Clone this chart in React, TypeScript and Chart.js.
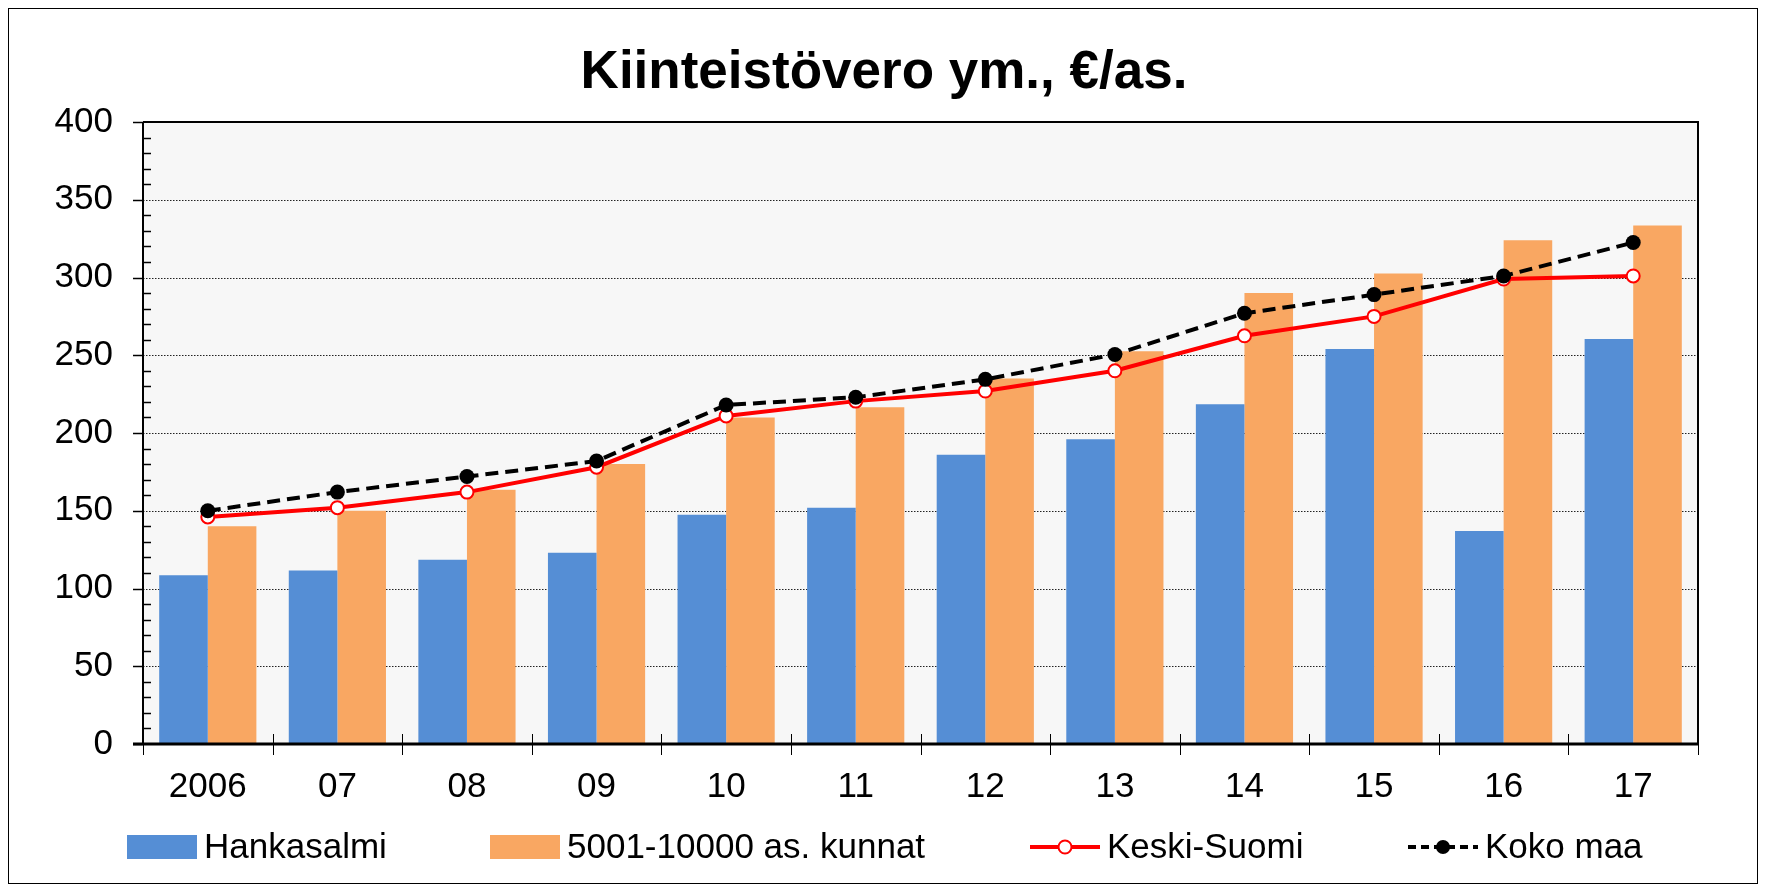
import React, { useEffect, useRef } from "react";
import { Chart, registerables } from "chart.js";

Chart.register(...registerables);

const title = "Kiinteistövero ym., €/as.";
const categories = ["2006", "07", "08", "09", "10", "11", "12", "13", "14", "15", "16", "17"];
const hankasalmi = [108.5, 111.5, 118.5, 123, 147.5, 152, 186, 196, 218.5, 254, 137, 260.5];
const kunnat = [140, 150, 163.5, 180, 210, 216.5, 235, 252.5, 290, 302.5, 324, 333.5];
const keskiSuomi = [146, 152, 162, 178, 211, 220.5, 227, 240, 262.5, 275, 299, 301];
const kokoMaa = [150, 162, 172, 182, 218, 223, 234.5, 250.5, 277, 289, 301, 322.5];
const seriesNames = ["Hankasalmi", "5001-10000 as. kunnat", "Keski-Suomi", "Koko maa"];
const yMin = 0;
const yMax = 400;
const yStep = 50;
const yMinorStep = 10;

const FONT = "'Liberation Sans', Arial, sans-serif";
const BLUE = "#558ED5";
const ORANGE = "#F9A762";
const RED = "#FF0000";
const BLACK = "#000000";
const LEGEND_X = [118, 481, 1021, 1399];

const decoPlugin = {
  id: "deco",
  beforeDatasetsDraw(chart: any) {
    const { ctx, chartArea: a, scales } = chart;
    const y = scales.y;
    ctx.save();
    ctx.fillStyle = "#F7F7F7";
    ctx.fillRect(a.left, a.top, a.right - a.left, a.bottom - a.top);
    ctx.strokeStyle = "#222";
    ctx.lineWidth = 1;
    ctx.setLineDash([1.5, 1.5]);
    for (let v = yMin + yStep; v < yMax; v += yStep) {
      const py = Math.round(y.getPixelForValue(v)) + 0.5;
      ctx.beginPath();
      ctx.moveTo(a.left, py);
      ctx.lineTo(a.right, py);
      ctx.stroke();
    }
    ctx.restore();
  },
  afterDatasetsDraw(chart: any) {
    const { ctx, chartArea: a, scales } = chart;
    const x = scales.x;
    const y = scales.y;
    ctx.save();
    ctx.strokeStyle = "#000";
    ctx.setLineDash([]);
    ctx.lineWidth = 2;
    ctx.beginPath();
    ctx.moveTo(a.left, a.top);
    ctx.lineTo(a.right, a.top);
    ctx.lineTo(a.right, a.bottom);
    ctx.stroke();
    ctx.beginPath();
    ctx.moveTo(a.left, a.top);
    ctx.lineTo(a.left, a.bottom);
    ctx.stroke();
    ctx.lineWidth = 1.5;
    for (let v = yMin; v <= yMax; v += yMinorStep) {
      const py = Math.round(y.getPixelForValue(v)) + 0.5;
      ctx.beginPath();
      if (v % yStep === 0) {
        ctx.moveTo(a.left - 10, py);
        ctx.lineTo(a.left, py);
      } else {
        ctx.moveTo(a.left, py);
        ctx.lineTo(a.left + 8, py);
      }
      ctx.stroke();
    }
    ctx.lineWidth = 3;
    ctx.beginPath();
    ctx.moveTo(a.left - 10, a.bottom);
    ctx.lineTo(a.right, a.bottom);
    ctx.stroke();
    ctx.lineWidth = 1;
    const n = categories.length;
    for (let i = 0; i <= n; i++) {
      const c0 = x.getPixelForValue(Math.max(0, i - 1));
      const c1 = x.getPixelForValue(Math.min(n - 1, i));
      let px;
      if (i === 0) px = a.left;
      else if (i === n) px = a.right;
      else px = (c0 + c1) / 2;
      px = Math.round(px) + 0.5;
      ctx.beginPath();
      ctx.moveTo(px, a.bottom - 10);
      ctx.lineTo(px, a.bottom + 11);
      ctx.stroke();
    }
    ctx.restore();
  },
  afterDraw(chart: any) {
    const { ctx, width } = chart;
    ctx.save();
    ctx.fillStyle = "#000";
    ctx.font = `bold 53px ${FONT}`;
    ctx.textAlign = "center";
    ctx.textBaseline = "alphabetic";
    ctx.fillText(title, width / 2 + 1, 79);

    ctx.font = `35px ${FONT}`;
    ctx.textAlign = "left";
    ctx.textBaseline = "middle";
    const symW = 70;
    const symGap = 7;
    const ly = 838;
    seriesNames.forEach((name, i) => {
      const lx = LEGEND_X[i];
      if (i === 0 || i === 1) {
        ctx.fillStyle = i === 0 ? BLUE : ORANGE;
        ctx.fillRect(lx, ly - 12, symW, 24);
      } else if (i === 2) {
        ctx.strokeStyle = RED;
        ctx.lineWidth = 4;
        ctx.setLineDash([]);
        ctx.beginPath();
        ctx.moveTo(lx, ly);
        ctx.lineTo(lx + symW, ly);
        ctx.stroke();
        ctx.beginPath();
        ctx.arc(lx + symW / 2, ly, 6.5, 0, Math.PI * 2);
        ctx.fillStyle = "#fff";
        ctx.fill();
        ctx.lineWidth = 2;
        ctx.stroke();
      } else {
        ctx.strokeStyle = BLACK;
        ctx.lineWidth = 4;
        ctx.setLineDash([8, 5]);
        ctx.beginPath();
        ctx.moveTo(lx, ly);
        ctx.lineTo(lx + symW, ly);
        ctx.stroke();
        ctx.setLineDash([]);
        ctx.beginPath();
        ctx.arc(lx + symW / 2, ly, 7, 0, Math.PI * 2);
        ctx.fillStyle = BLACK;
        ctx.fill();
      }
      ctx.fillStyle = "#000";
      ctx.fillText(name, lx + symW + symGap, ly + 1);
    });
    ctx.restore();
  },
};

export default function App() {
  const ref = useRef<HTMLCanvasElement | null>(null);
  useEffect(() => {
    if (!ref.current) return;
    const chart = new Chart(ref.current, {
      type: "bar",
      data: {
        labels: categories,
        datasets: [
          {
            type: "bar",
            label: seriesNames[0],
            data: hankasalmi,
            backgroundColor: BLUE,
            borderWidth: 0,
            categoryPercentage: 0.75,
            barPercentage: 1.0,
            order: 2,
          },
          {
            type: "bar",
            label: seriesNames[1],
            data: kunnat,
            backgroundColor: ORANGE,
            borderWidth: 0,
            categoryPercentage: 0.75,
            barPercentage: 1.0,
            order: 2,
          },
          {
            type: "line",
            label: seriesNames[2],
            data: keskiSuomi,
            borderColor: RED,
            borderWidth: 4,
            pointRadius: 6.5,
            pointBorderWidth: 2,
            pointBackgroundColor: "#fff",
            pointBorderColor: RED,
            tension: 0,
            order: 1,
          },
          {
            type: "line",
            label: seriesNames[3],
            data: kokoMaa,
            borderColor: BLACK,
            borderWidth: 4,
            borderDash: [13, 7],
            pointRadius: 7.5,
            pointBorderWidth: 0,
            pointBackgroundColor: BLACK,
            pointBorderColor: BLACK,
            tension: 0,
            order: 0,
          },
        ],
      },
      options: {
        animation: false,
        responsive: true,
        maintainAspectRatio: false,
        layout: { padding: { top: 113, right: 59, left: 0, bottom: 59 } },
        plugins: {
          legend: { display: false },
          title: { display: false },
          tooltip: { enabled: false },
        },
        scales: {
          x: {
            type: "category",
            offset: true,
            grid: { display: false, drawTicks: false },
            border: { display: false },
            ticks: {
              color: "#000",
              font: { family: FONT, size: 35 },
              padding: 22,
              maxRotation: 0,
              autoSkip: false,
            },
            afterFit: (s: any) => {
              s.height = 80;
            },
          },
          y: {
            min: yMin,
            max: yMax,
            grid: { display: false, drawTicks: false },
            border: { display: false },
            ticks: {
              stepSize: yStep,
              color: "#000",
              font: { family: FONT, size: 35 },
              padding: 30,
            },
            afterFit: (s: any) => {
              s.width = 134;
            },
          },
        },
      },
      plugins: [decoPlugin],
    } as any);
    return () => chart.destroy();
  }, []);

  return (
    <div
      style={{
        width: 1750,
        height: 876,
        border: "1px solid #000",
        boxSizing: "border-box",
        position: "relative",
      }}
    >
      <canvas ref={ref} style={{ display: "block" }} />
    </div>
  );
}
